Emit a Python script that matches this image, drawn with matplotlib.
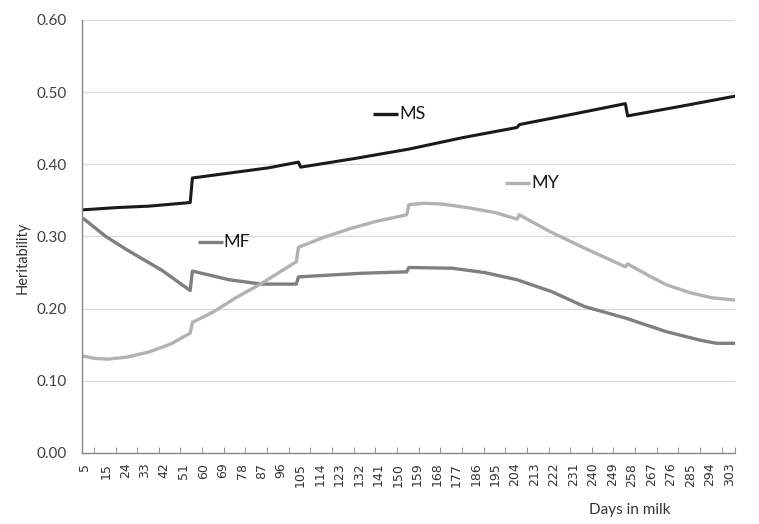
import numpy as np
import matplotlib
matplotlib.use("Agg")
import matplotlib.pyplot as plt

# values (day in milk -> heritability)
ms_days = [5, 20, 35, 54, 55, 70, 90, 104, 105, 130, 155, 180, 205, 206, 230, 255, 256, 280, 305]
ms_vals = [0.337, 0.340, 0.342, 0.347, 0.381, 0.387, 0.395, 0.403, 0.396, 0.408, 0.421, 0.437,
           0.451, 0.455, 0.469, 0.484, 0.467, 0.480, 0.494]

my_days = [5, 10, 16, 25, 35, 45, 54, 55, 65, 75, 87, 95, 103, 104, 115, 128, 140, 154, 155,
           162, 170, 182, 195, 205, 206, 220, 236, 255, 256, 265, 274, 285, 295, 305]
my_vals = [0.134, 0.131, 0.130, 0.133, 0.140, 0.151, 0.166, 0.181, 0.196, 0.215, 0.235, 0.250,
           0.265, 0.285, 0.298, 0.311, 0.321, 0.330, 0.344, 0.346, 0.345, 0.340, 0.333, 0.324,
           0.330, 0.307, 0.284, 0.258, 0.262, 0.247, 0.233, 0.222, 0.215, 0.212]

mf_days = [5, 15, 25, 41, 54, 55, 65, 72, 87, 103, 104, 133, 154, 155, 175, 190, 205, 221,
           236, 255, 274, 290, 297, 305]
mf_vals = [0.324, 0.300, 0.281, 0.253, 0.225, 0.252, 0.245, 0.240, 0.234, 0.234, 0.244, 0.249,
           0.251, 0.257, 0.256, 0.250, 0.240, 0.2235, 0.203, 0.187, 0.168, 0.156, 0.152, 0.152]

tick_days = [5] + list(range(15, 304, 9))
tick_marks = [9.5 + 10 * k for k in range(30)] + [305.5]
y_ticks = [0.0, 0.1, 0.2, 0.3, 0.4, 0.5, 0.6]

fig = plt.figure(figsize=(7.59, 5.24), dpi=100)
ax = fig.add_axes([0.108, 0.1355, 0.860, 0.8265])

ax.plot(ms_days, ms_vals, color="#1a1a1a", lw=2.2, solid_joinstyle="round")
ax.plot(mf_days, mf_vals, color="#7f7f7f", lw=2.4, solid_joinstyle="round")
ax.plot(my_days, my_vals, color="#b2b2b2", lw=2.4, solid_joinstyle="round")

ax.set_xlim(4.0, 305.5)
ax.set_ylim(0, 0.6)

ax.set_yticks(y_ticks)
ax.set_yticklabels(["%.2f" % v for v in y_ticks], family="Lato", fontsize=11, color="#404040")
ax.yaxis.grid(True, color="#d9d9d9", lw=0.9)
ax.set_axisbelow(True)
ax.tick_params(axis="y", length=0, pad=11)

ax.set_xticks(tick_days)
ax.set_xticklabels([str(d) for d in tick_days], rotation=90, family="DejaVu Sans",
                   fontsize=9, color="#333333")
ax.tick_params(axis="x", length=0, pad=7)
ax.set_xticks(tick_marks, minor=True)
ax.tick_params(axis="x", which="minor", direction="in", length=4, color="#808080")

for s in ["top", "right"]:
    ax.spines[s].set_visible(False)
for s in ["left", "bottom"]:
    ax.spines[s].set_color("#868686")
    ax.spines[s].set_linewidth(1.0)

# inline legend labels
def tag(x, y, text, color):
    ax.plot([x, x + 11.5], [y, y], color=color, lw=2.4, solid_capstyle="butt")
    ax.text(x + 12, y, text, family="Lato", fontsize=13, va="center", ha="left", color="#1a1a1a")

tag(138.5, 0.470, "MS", "#1a1a1a")
tag(199.5, 0.374, "MY", "#b2b2b2")
tag(57.5, 0.292, "MF", "#7f7f7f")

fig.text(0.030, 0.508, "Heritability", rotation=90, family="Lato", fontsize=10.5,
         color="#333333", ha="center", va="center")
fig.text(0.830, 0.027, "Days in milk", family="Lato", fontsize=11, color="#333333",
         ha="center", va="center")

fig.savefig("out.png", dpi=100)
